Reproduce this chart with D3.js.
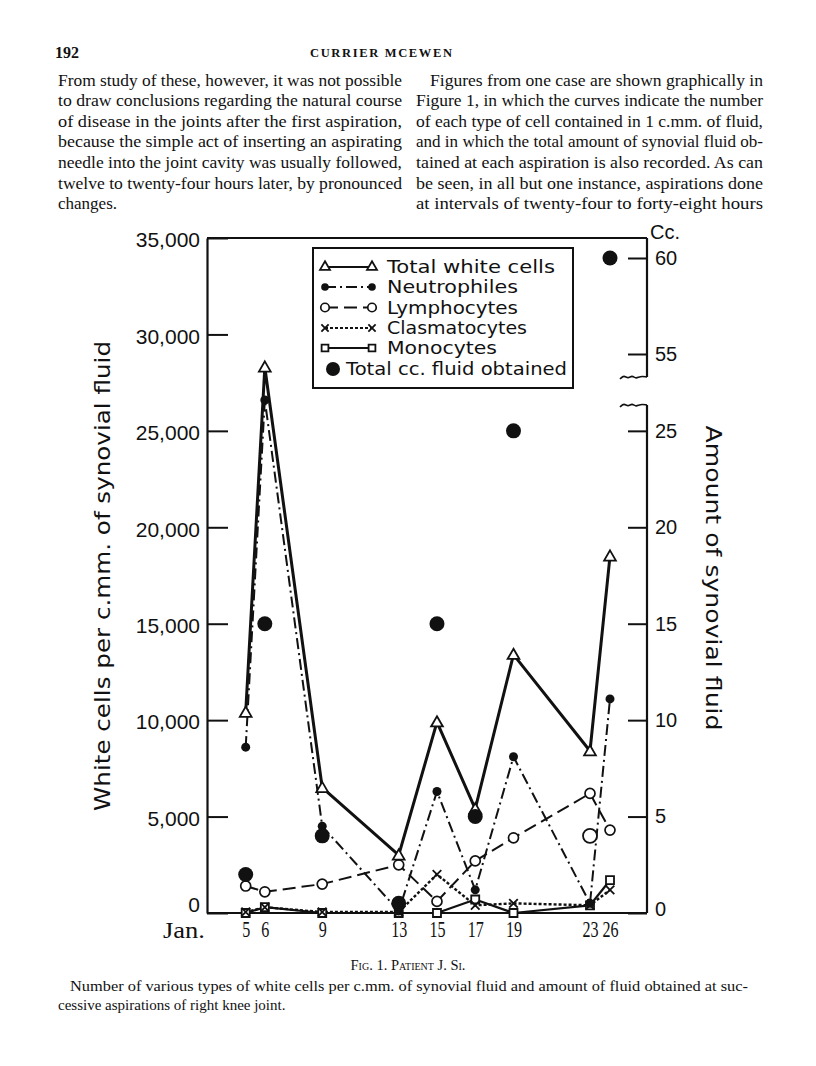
<!DOCTYPE html>
<html><head><meta charset="utf-8">
<script src="https://cdn.jsdelivr.net/npm/d3@7"></script>
<style>body{margin:0;background:#fff} svg{display:block}</style>
</head><body>
<script>
// ---------- data ----------
const days = [5, 6, 9, 13, 15, 17, 19, 23, 26];
const dayLabels = ["5", "6", "9", "13", "15", "17", "19", "23", "26"];
const totalWhite    = [10400, 28300, 6500, 3000, 9900, 5400, 13400, 8400, 18500];
const neutrophiles  = [8600, 26600, 4500, 100, 6300, 1200, 8100, 500, 11100];
const lymphocytes   = [1400, 1100, 1500, 2500, 600, 2700, 3900, 6200, 4300];
const clasmatocytes = [50, 300, 50, 50, 2000, 400, 500, 400, 1200];
const monocytes     = [0, 300, 0, 0, 0, 700, 0, 400, 1700];
const fluidCc       = [2, 15, 4, 0.5, 15, 5, 25, 4, 60];
const fluidOpen     = [false, false, false, false, false, false, false, true, false];
const leftTicks  = [0, 5000, 10000, 15000, 20000, 25000, 30000, 35000];
const rightTicks = [0, 5, 10, 15, 20, 25, 55, 60];
const legendLabels = ["Total white cells", "Neutrophiles", "Lymphocytes", "Clasmatocytes", "Monocytes", "Total cc. fluid obtained"];

const leftText = [
  "From study of these, however, it was not possible",
  "to draw conclusions regarding the natural course",
  "of disease in the joints after the first aspiration,",
  "because the simple act of inserting an aspirating",
  "needle into the joint cavity was usually followed,",
  "twelve to twenty-four hours later, by pronounced",
  "changes."
];
const rightText = [
  "Figures from one case are shown graphically in",
  "Figure 1, in which the curves indicate the number",
  "of each type of cell contained in 1 c.mm. of fluid,",
  "and in which the total amount of synovial fluid ob-",
  "tained at each aspiration is also recorded.  As can",
  "be seen, in all but one instance, aspirations done",
  "at intervals of twenty-four to forty-eight hours"
];
const captionLines = [
  "Number of various types of white cells per c.mm. of synovial fluid and amount of fluid obtained at suc-",
  "cessive aspirations of right knee joint."
];

// ---------- page ----------
const W = 816, H = 1066;
const svg = d3.select("body").append("svg").attr("width", W).attr("height", H)
  .style("background", "#fff");

const serif = "'Liberation Serif', 'Times New Roman', serif";
const sans = "'DejaVu Sans', sans-serif";
const num = "'Liberation Sans', Arial, sans-serif";
const ink = "#111";

// header
svg.append("text").attr("x", 55).attr("y", 58).text("192")
  .attr("font-family", serif).attr("font-weight", "bold").attr("font-size", 16).attr("fill", ink);
svg.append("text").attr("x", 310).attr("y", 57)
  .text("CURRIER MCEWEN").attr("font-family", serif).attr("font-weight", "bold")
  .attr("font-size", 12.5).attr("textLength", 142).attr("lengthAdjust", "spacing").attr("fill", ink);

// body columns
function column(lines, x0, x1, indent) {
  lines.forEach((s, i) => {
    const xs = x0 + (i === 0 ? indent : 0);
    const t = svg.append("text").attr("x", xs).attr("y", 85.5 + i * 20.6)
      .attr("font-family", serif).attr("font-size", 17).attr("fill", ink).text(s);
    if (s !== "changes.") t.attr("textLength", x1 - xs).attr("lengthAdjust", "spacingAndGlyphs");
  });
}
column(leftText, 58, 402, 0);
column(rightText, 416, 763, 14);

// ---------- chart ----------
const x = d3.scaleLinear().domain([5, 23, 26]).range([245.7, 590, 610]);
const y = d3.scaleLinear().domain([0, 35000]).range([913, 238]);
const yR = d3.scaleLinear().domain([0, 25, 55, 60]).range([913, y(25000), 354, 258]);
const xL = 207, xR = 647;

const g = svg.append("g");

// frame
g.append("line").attr("x1", xL).attr("x2", xR).attr("y1", y(35000)).attr("y2", y(35000));
g.append("line").attr("x1", xL).attr("x2", xR).attr("y1", y(0)).attr("y2", y(0));
g.append("line").attr("x1", xR).attr("x2", xR).attr("y1", y(35000)).attr("y2", 377);
g.append("line").attr("x1", xR).attr("x2", xR).attr("y1", 405).attr("y2", y(0));
g.selectAll("line").attr("stroke", ink).attr("stroke-width", 2.2);

// break squiggles
const wave = d3.line().curve(d3.curveBasis);
[377, 405].forEach(yy => {
  g.append("path").attr("d", wave([[620, yy + 2], [624, yy - 2], [628, yy + 2], [632, yy - 2], [636, yy + 2], [640, yy - 1], [647, yy]]))
    .attr("fill", "none").attr("stroke", ink).attr("stroke-width", 1.6);
});

// left axis
const axL = g.append("g").attr("transform", `translate(${xL},0)`)
  .call(d3.axisLeft(y).tickValues(leftTicks).tickFormat(d3.format(",")).tickSize(-21).tickSizeOuter(0).tickPadding(7));
axL.select(".domain").attr("stroke", ink).attr("stroke-width", 2.2);
axL.selectAll(".tick line").attr("stroke", ink).attr("stroke-width", 2);
axL.selectAll(".tick text").attr("font-family", num).attr("font-size", 21).attr("fill", ink)
  .attr("dy", d => d === 0 ? "-0.05em" : "0.42em");

// right axis
const axR = g.append("g").attr("transform", `translate(${xR},0)`)
  .call(d3.axisRight(yR).tickValues(rightTicks).tickSize(-19).tickSizeOuter(0).tickPadding(8));
axR.select(".domain").remove();
axR.selectAll(".tick line").attr("stroke", ink).attr("stroke-width", 2);
axR.selectAll(".tick text").attr("font-family", num).attr("font-size", 20).attr("fill", ink)
  .attr("dy", d => d === 0 ? "0.1em" : "0.32em");
svg.append("text").attr("x", 650).attr("y", 239).text("Cc.")
  .attr("font-family", num).attr("font-size", 20).attr("fill", ink);

// bottom labels
const axB = g.append("g").attr("transform", `translate(0,${y(0)})`)
  .call(d3.axisBottom(x).tickValues(days).tickFormat((d, i) => dayLabels[i]).tickSize(0).tickPadding(5));
axB.select(".domain").remove();
axB.selectAll(".tick text").attr("font-family", serif).attr("font-size", 23).attr("fill", ink)
  .attr("dy", "0.82em").attr("transform", "scale(0.7,1)");
svg.append("text").attr("x", 163).attr("y", 938).text("Jan.")
  .attr("font-family", serif).attr("font-size", 23).attr("fill", ink)
  .attr("textLength", 42).attr("lengthAdjust", "spacingAndGlyphs");

// axis titles
svg.append("text").attr("transform", "translate(110,576) rotate(-90)").attr("text-anchor", "middle")
  .text("White cells per c.mm. of synovial fluid").attr("font-family", sans).attr("font-size", 21)
  .attr("textLength", 470).attr("lengthAdjust", "spacingAndGlyphs").attr("fill", ink);
svg.append("text").attr("transform", "translate(706,578) rotate(90)").attr("text-anchor", "middle")
  .text("Amount of synovial fluid").attr("font-family", sans).attr("font-size", 21)
  .attr("textLength", 305).attr("lengthAdjust", "spacingAndGlyphs").attr("fill", ink);

// series
const series = [
  {v: totalWhite, dash: null, w: 3, mark: "tri"},
  {v: neutrophiles, dash: "11,4,2,4", w: 2, mark: "dot"},
  {v: lymphocytes, dash: "13,6", w: 2, mark: "ring"},
  {v: clasmatocytes, dash: "3,2", w: 2.4, mark: "x"},
  {v: monocytes, dash: null, w: 2.2, mark: "sq"}
];
const line = d3.line().x(d => x(d[0])).y(d => y(d[1]));

function drawMark(sel, type, cx, cy, sc) {
  const k = sc || 1;
  if (type === "tri") {
    sel.append("path").attr("d", d3.symbol(d3.symbolTriangle, 60 * k * k)()).attr("transform", `translate(${cx},${cy + 1})`)
      .attr("fill", "#fff").attr("stroke", ink).attr("stroke-width", 1.8);
  } else if (type === "dot") {
    sel.append("circle").attr("cx", cx).attr("cy", cy).attr("r", 4.5 * k).attr("fill", ink);
  } else if (type === "ring") {
    sel.append("circle").attr("cx", cx).attr("cy", cy).attr("r", 5 * k).attr("fill", "#fff").attr("stroke", ink).attr("stroke-width", 1.7);
  } else if (type === "x") {
    sel.append("path").attr("d", d3.symbol(d3.symbolX, 50 * k * k)()).attr("transform", `translate(${cx},${cy})`)
      .attr("fill", "none").attr("stroke", ink).attr("stroke-width", 1.8);
  } else if (type === "sq") {
    sel.append("path").attr("d", d3.symbol(d3.symbolSquare, 64 * k * k)()).attr("transform", `translate(${cx},${cy})`)
      .attr("fill", "#fff").attr("stroke", ink).attr("stroke-width", 1.8);
  }
}

const gl = svg.append("g");
series.slice().reverse().forEach(s => {
  gl.append("path").attr("d", line(days.map((d, i) => [d, s.v[i]])))
    .attr("fill", "none").attr("stroke", ink).attr("stroke-width", s.w)
    .attr("stroke-dasharray", s.dash).attr("stroke-linejoin", "round");
});
const gm = svg.append("g");
series.slice().reverse().forEach(s => {
  days.forEach((d, i) => drawMark(gm, s.mark, x(d), y(s.v[i])));
});
// fluid
days.forEach((d, i) => {
  const c = gm.append("circle").attr("cx", x(d)).attr("cy", yR(fluidCc[i])).attr("r", 7.5);
  if (fluidOpen[i]) c.attr("fill", "#fff").attr("stroke", ink).attr("stroke-width", 1.8).attr("r", 7);
  else c.attr("fill", ink);
});

// legend
const lg = svg.append("g");
lg.append("rect").attr("x", 313).attr("y", 248).attr("width", 260).attr("height", 140)
  .attr("fill", "#fff").attr("stroke", ink).attr("stroke-width", 2);
const rowY = [267, 287, 307.5, 328, 348, 369];
const labelW = [168, 131, 131, 140, 110, 221];
legendLabels.forEach((lab, i) => {
  const yy = rowY[i];
  let tx = 387;
  if (i < 5) {
    const s = series[i];
    lg.append("line").attr("x1", 325).attr("x2", 372).attr("y1", yy).attr("y2", yy)
      .attr("stroke", ink).attr("stroke-width", Math.min(s.w, 2.2)).attr("stroke-dasharray", s.dash);
    drawMark(lg, s.mark, 325, yy - (s.mark === "tri" ? 1 : 0), 0.85);
    drawMark(lg, s.mark, 372, yy - (s.mark === "tri" ? 1 : 0), 0.85);
  } else {
    lg.append("circle").attr("cx", 333).attr("cy", yy).attr("r", 7).attr("fill", ink);
    tx = 346;
  }
  lg.append("text").attr("x", tx).attr("y", yy + 6).text(lab)
    .attr("font-family", sans).attr("font-size", 17.5).attr("fill", ink)
    .attr("textLength", labelW[i]).attr("lengthAdjust", "spacingAndGlyphs");
});

// caption
svg.append("text").attr("x", 408).attr("y", 970).attr("text-anchor", "middle")
  .text("Fig. 1.  Patient J. Si.").attr("font-family", serif).attr("font-size", 14.5)
  .style("font-variant", "small-caps").attr("fill", ink);
captionLines.forEach((s, i) => {
  const t = svg.append("text").attr("x", i === 0 ? 70 : 58).attr("y", 991 + i * 19).text(s)
    .attr("font-family", serif).attr("font-size", 15).attr("fill", ink);
  if (i === 0) t.attr("textLength", 748 - 70).attr("lengthAdjust", "spacingAndGlyphs");
});
</script>
</body></html>
